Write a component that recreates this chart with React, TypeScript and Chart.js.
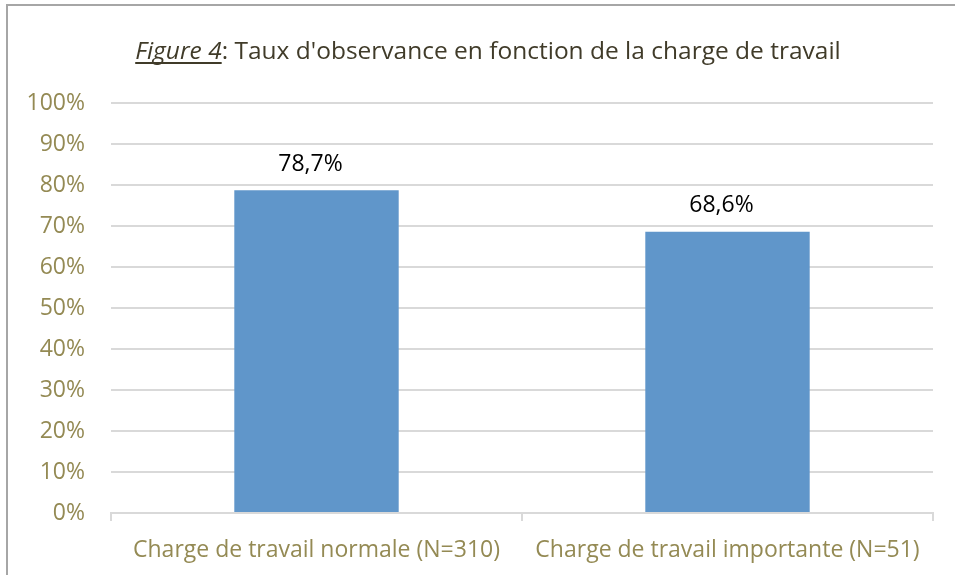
import React, { useEffect, useRef } from "react";
import { Chart, registerables } from "chart.js";

Chart.register(...registerables);

const categories = ["Charge de travail normale (N=310)", "Charge de travail importante (N=51)"];
const values = [78.7, 68.6];
const valueLabels = ["78,7%", "68,6%"];
const titleItalic = "Figure 4";
const titleRest = ": Taux d'observance en fonction de la charge de travail";

const FONT = "'Open Sans', 'Liberation Sans', sans-serif";

const framePlugin = {
  id: "frame",
  beforeDraw(chart: any) {
    const ctx = chart.ctx;
    ctx.save();
    ctx.fillStyle = "#ffffff";
    ctx.fillRect(0, 0, chart.width, chart.height);
    ctx.strokeStyle = "#a6a6a6";
    ctx.lineWidth = 2;
    ctx.beginPath();
    ctx.moveTo(chart.width, 5);
    ctx.lineTo(7, 5);
    ctx.lineTo(7, chart.height);
    ctx.stroke();
    ctx.restore();
  },
};

const titlePlugin = {
  id: "mixedTitle",
  afterDraw(chart: any) {
    const ctx = chart.ctx;
    ctx.save();
    const size = 24.5;
    const italicFont = `italic ${size}px ${FONT}`;
    const normalFont = `${size}px ${FONT}`;
    ctx.font = italicFont;
    const w1 = ctx.measureText(titleItalic).width;
    ctx.font = normalFont;
    const w2 = ctx.measureText(titleRest).width;
    const cx = 488;
    const y = 52;
    const x0 = cx - (w1 + w2) / 2;
    ctx.fillStyle = "#403b29";
    ctx.textBaseline = "middle";
    ctx.textAlign = "left";
    ctx.font = italicFont;
    ctx.fillText(titleItalic, x0, y);
    ctx.font = normalFont;
    ctx.fillText(titleRest, x0 + w1, y);
    ctx.strokeStyle = "#403b29";
    ctx.lineWidth = 2;
    ctx.beginPath();
    ctx.moveTo(x0, y + 11);
    ctx.lineTo(x0 + w1, y + 11);
    ctx.stroke();
    ctx.restore();
  },
};

const valueLabelPlugin = {
  id: "valueLabels",
  afterDatasetsDraw(chart: any) {
    const ctx = chart.ctx;
    const meta = chart.getDatasetMeta(0);
    ctx.save();
    ctx.font = `23px ${FONT}`;
    ctx.fillStyle = "#000000";
    ctx.textAlign = "center";
    ctx.textBaseline = "middle";
    meta.data.forEach((bar: any, i: number) => {
      ctx.fillText(valueLabels[i], bar.x - 6, bar.y - 26);
    });
    ctx.restore();
  },
};

export default function App() {
  const ref = useRef<HTMLCanvasElement>(null);
  useEffect(() => {
    if (!ref.current) return;
    const chart = new Chart(ref.current, {
      type: "bar",
      data: {
        labels: categories,
        datasets: [
          {
            data: values,
            backgroundColor: "#6096CA",
            barPercentage: 0.4,
            categoryPercentage: 1,
          },
        ],
      },
      options: {
        animation: false,
        responsive: false,
        maintainAspectRatio: false,
        layout: { padding: { top: 103, right: 22, left: 0, bottom: 0 } },
        plugins: {
          legend: { display: false },
          title: { display: false },
          tooltip: { enabled: false },
        },
        scales: {
          x: {
            grid: {
              offset: true,
              drawOnChartArea: false,
              drawTicks: true,
              tickLength: 8,
              color: "#d9d9d9",
              lineWidth: 2,
            },
            border: { color: "#d9d9d9", width: 2 },
            ticks: {
              color: "#948A54",
              font: { family: FONT, size: 23 },
              padding: 16,
              maxRotation: 0,
              autoSkip: false,
            },
            afterFit(scale: any) {
              scale.height = 62;
            },
          },
          y: {
            min: 0,
            max: 100,
            grid: { color: "#d9d9d9", lineWidth: 2, drawTicks: false },
            border: { display: false },
            ticks: {
              stepSize: 10,
              color: "#948A54",
              font: { family: FONT, size: 23 },
              padding: 26,
              callback: (v: any) => `${v}%`,
            },
            afterFit(scale: any) {
              scale.width = 111;
            },
          },
        },
      },
      plugins: [framePlugin, titlePlugin, valueLabelPlugin],
    });
    return () => chart.destroy();
  }, []);
  return (
    <div style={{ position: "absolute", left: 0, top: 0, width: 955, height: 575 }}>
      <canvas ref={ref} width={955} height={575} style={{ display: "block" }} />
    </div>
  );
}
